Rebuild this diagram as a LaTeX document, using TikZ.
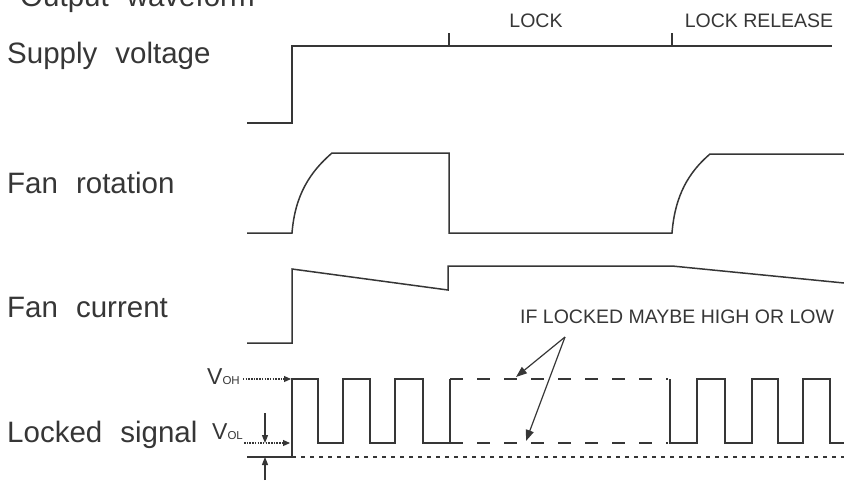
\documentclass[tikz,border=0pt]{standalone}
\usepackage{fontspec}
\setmainfont{Liberation Sans}
\newfontfamily\labelfont[WordSpace=2.2]{Liberation Sans}
\usetikzlibrary{arrows.meta}

\definecolor{ink}{HTML}{363636}

\tikzset{
    wave/.style={draw=ink, line width=1.5pt},
    sig/.style={anchor=base west, text=ink, inner sep=0pt,
        font=\labelfont\fontsize{29.5}{34}\selectfont},
    tag/.style={text=ink, inner sep=0pt, font=\fontsize{19.5}{23}\selectfont},
    level/.style={draw=ink, line width=1.1pt, dash pattern=on 1.5pt off 1.2pt,
        -{Triangle[length=7pt,width=6pt]}},
    pointer/.style={draw=ink, line width=1.2pt, -{Triangle[length=11pt,width=8pt]}},
    gauge/.style={draw=ink, line width=1.1pt, -{Triangle[length=8pt,width=6pt]}},
    either/.style={draw=ink, line width=1.3pt, dash pattern=on 13pt off 14pt},
}
\newcommand{\vsub}[1]{{\fontsize{23}{26}\selectfont V}{\fontsize{11.5}{13}\selectfont #1}}

\begin{document}
\begin{tikzpicture}[x=1pt,y=-1pt]
    \useasboundingbox (0,0) rectangle (844,480);

    \node[sig] (title) at (20,6) {Output waveform};
    \node[sig] (supply) at (7,63) {Supply voltage};
    \node[sig] (rotation) at (7,193) {Fan rotation};
    \node[sig] (current) at (7,317) {Fan current};
    \node[sig] (locked) at (7,442) {Locked signal};

    \node[tag, anchor=base] (lock) at (536,27) {LOCK};
    \node[tag, anchor=base] (release) at (759,27) {LOCK RELEASE};

    % supply voltage
    \draw[wave] (247,123) -- (292,123) -- (292,46) -- (832,46);
    \foreach \x in {449,672}{
        \draw[wave] (\x,33) -- (\x,46);
    }

    % fan rotation
    \draw[wave] (247,233) -- (292,233)
        .. controls (295,195) and (310,172) .. (332,153) -- (449,153)
        -- (449,233) -- (672,233)
        .. controls (675,195) and (689,172) .. (710,154) -- (844,154);

    % fan current
    \draw[wave] (247,343) -- (292,343) -- (292,269) -- (448,290)
        -- (448,266) -- (672,266) -- (844,283);

    % locked signal
    \draw[wave] (247,457) -- (292,457) -- (292,379)
        -- (318,379) -- (318,443) -- (343,443) -- (343,379)
        -- (370,379) -- (370,443) -- (395,443) -- (395,379)
        -- (423,379) -- (423,443) -- (450,443) -- (450,379);
    \draw[either] (450,379) -- (668,379);
    \draw[either] (450,443) -- (668,443);
    \draw[wave] (670,379) -- (670,443) -- (697,443) -- (697,379)
        -- (725,379) -- (725,443) -- (752,443) -- (752,379)
        -- (778,379) -- (778,443) -- (803,443) -- (803,379)
        -- (830,379) -- (830,443) -- (844,443);
    \draw[ink, line width=1.1pt, dash pattern=on 4pt off 5pt] (292,457) -- (844,457);

    % output levels
    \node[tag, anchor=base west] (voh) at (207,384) {\vsub{OH}};
    \node[tag, anchor=base west] (vol) at (212,439) {\vsub{OL}};
    \coordinate (ohtip) at (291,379);
    \coordinate (oltip) at (290,443);
    \draw[level, shorten <=3pt] (voh.east |- ohtip) -- (ohtip);
    \draw[level, shorten <=1pt] (vol.east |- oltip) -- (oltip);

    \coordinate (gtop) at (265,413);
    \coordinate (gbot) at (265,480);
    \draw[gauge] (gtop) -- (gtop |- oltip);
    \draw[gauge] (gbot) -- (265,457);

    % note
    \node[tag, anchor=base west] (maybe) at (520,323) {IF LOCKED MAYBE HIGH OR LOW};
    \coordinate (fork) at (565,337);
    \coordinate (hitip) at (516,377);
    \coordinate (lotip) at (526,441);
    \draw[pointer] (fork) -- (hitip);
    \draw[pointer] (fork) -- (lotip);
\end{tikzpicture}
\end{document}
